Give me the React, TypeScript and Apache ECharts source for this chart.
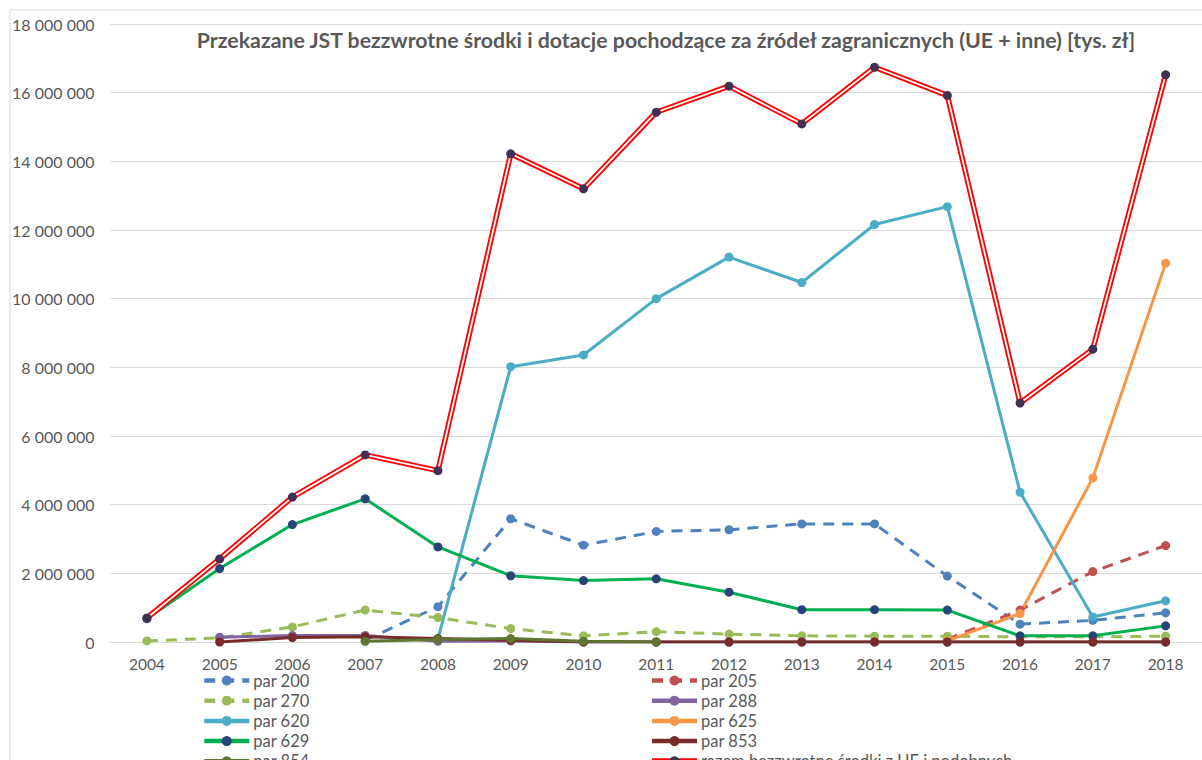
import React, { useEffect, useRef } from "react";
import * as echarts from "echarts";

const years = ["2004", "2005", "2006", "2007", "2008", "2009", "2010", "2011", "2012", "2013", "2014", "2015", "2016", "2017", "2018"];

const par200 = [null, null, null, 50000, 1030000, 3590000, 2820000, 3220000, 3270000, 3440000, 3440000, 1920000, 520000, 630000, 850000];
const par205 = [null, null, null, null, null, null, null, null, null, null, null, 80000, 930000, 2050000, 2810000];
const par270 = [30000, 120000, 440000, 930000, 710000, 390000, 180000, 300000, 230000, 180000, 170000, 170000, 150000, 150000, 170000];
const par288 = [null, 140000, 190000, 190000, 20000, 30000, 0, 0, 0, 0, 0, 0, 0, 0, 0];
const par620 = [null, null, null, null, 100000, 8020000, 8360000, 10000000, 11210000, 10470000, 12160000, 12680000, 4360000, 730000, 1200000];
const par625 = [null, null, null, null, null, null, null, null, null, null, null, 30000, 830000, 4780000, 11030000];
const par629 = [680000, 2140000, 3420000, 4170000, 2770000, 1930000, 1790000, 1840000, 1450000, 940000, 940000, 930000, 180000, 180000, 470000];
const par853 = [null, 0, 130000, 150000, 100000, 50000, 0, 0, 0, 0, 0, 0, 0, 0, 0];
const par854 = [null, null, null, 20000, 70000, 100000, 20000, 0, null, null, null, null, null, null, null];
const razem = [700000, 2420000, 4220000, 5450000, 4990000, 14220000, 13200000, 15430000, 16190000, 15090000, 16740000, 15920000, 6960000, 8530000, 16520000];

const yTicks = { min: 0, max: 18000000, interval: 2000000 };

const TITLE = "Przekazane JST bezzwrotne środki i dotacje pochodzące za źródeł zagranicznych (UE + inne) [tys. zł]";
const RAZEM = "razem bezzwrotne środki z UE i podobnych";

const FONT = "Lato, 'Open Sans', sans-serif";
const GRAY = "#595959";

function fmt(v: number) {
  return String(v).replace(/\B(?=(\d{3})+(?!\d))/g, " ");
}

function lineSeries(name: string, data: (number | null)[], color: string, dashed: boolean, markerColor?: string) {
  return {
    name,
    type: "line",
    data,
    symbol: "circle",
    symbolSize: 9,
    connectNulls: false,
    lineStyle: { color, width: 3, type: dashed ? [11, 8] : "solid", cap: "butt" },
    itemStyle: { color: markerColor || color, borderWidth: 0 },
    emphasis: { disabled: true },
  };
}

const legendBase = {
  orient: "vertical",
  top: 672,
  height: 300,
  padding: 0,
  itemWidth: 45,
  itemHeight: 12.5,
  itemGap: 3.2,
  lineStyle: { width: 4.5 },
  textStyle: { color: GRAY, fontSize: 16.5, lineHeight: 16, fontFamily: FONT, padding: [0, 0, 0, -1] },
  selectedMode: false,
};

export default function App() {
  const ref = useRef<HTMLDivElement>(null);
  useEffect(() => {
    document.body.style.margin = "0";
    const chart = echarts.init(ref.current!, null, { renderer: "svg" });
    const option: any = {
      animation: false,
      textStyle: { fontFamily: FONT },
      graphic: [
        {
          type: "rect",
          shape: { x: 10, y: 10, width: 1400, height: 900 },
          style: { fill: "none", stroke: "#d9d9d9", lineWidth: 1 },
          silent: true,
          z: -10,
        },
        {
          type: "text",
          x: 666,
          y: 40,
          style: {
            text: TITLE,
            fill: GRAY,
            font: `bold 21.3px ${FONT}`,
            align: "center",
            verticalAlign: "middle",
          },
        },
      ],
      grid: { left: 110.5, top: 24, width: 1096, height: 618 },
      xAxis: {
        type: "category",
        data: years,
        boundaryGap: true,
        axisLine: { show: true, lineStyle: { color: "#d9d9d9", width: 1 } },
        axisTick: { show: false },
        axisLabel: { color: GRAY, fontSize: 15.5, lineHeight: 15, margin: 14, fontFamily: FONT },
        splitLine: { show: false },
      },
      yAxis: {
        type: "value",
        min: yTicks.min,
        max: yTicks.max,
        interval: yTicks.interval,
        axisLine: { show: false },
        axisTick: { show: false },
        axisLabel: { color: GRAY, fontSize: 16, margin: 16, formatter: (v: number) => fmt(v), fontFamily: FONT },
        splitLine: { lineStyle: { color: "#d9d9d9", width: 1 } },
      },
      legend: [
        { ...legendBase, left: 202, data: ["par 200", "par 270", "par 620", "par 629", "par 854"] },
        {
          ...legendBase,
          left: 649,
          data: [
            "par 205",
            "par 288",
            "par 625",
            "par 853",
            { name: RAZEM, itemStyle: { color: "#403152" }, lineStyle: { color: "#FF0000", width: 6 } },
          ],
        },
      ],
      series: [
        lineSeries("par 200", par200, "#4F81BD", true),
        lineSeries("par 205", par205, "#C0504D", true),
        lineSeries("par 270", par270, "#9BBB59", true),
        lineSeries("par 288", par288, "#8064A2", false),
        lineSeries("par 620", par620, "#4BACC6", false),
        lineSeries("par 625", par625, "#F79646", false),
        lineSeries("par 629", par629, "#00B050", false, "#264478"),
        lineSeries("par 853", par853, "#772C2A", false),
        lineSeries("par 854", par854, "#5F7530", false),
        {
          name: RAZEM,
          type: "line",
          data: razem,
          symbol: "circle",
          symbolSize: 9,
          showSymbol: false,
          lineStyle: { color: "#FF0000", width: 5.5 },
          itemStyle: { color: "#403152" },
          emphasis: { disabled: true },
        },
        {
          name: "razem_inner",
          type: "line",
          data: razem,
          symbol: "none",
          lineStyle: { color: "#FFFFFF", width: 1.8 },
          emphasis: { disabled: true },
          silent: true,
        },
        {
          name: "razem_markers",
          type: "line",
          data: razem,
          symbol: "circle",
          symbolSize: 9,
          lineStyle: { opacity: 0, width: 0 },
          itemStyle: { color: "#403152" },
          emphasis: { disabled: true },
          silent: true,
        },
      ],
    };
    chart.setOption(option);
    return () => chart.dispose();
  }, []);
  return <div ref={ref} style={{ width: 1202, height: 760 }} />;
}
